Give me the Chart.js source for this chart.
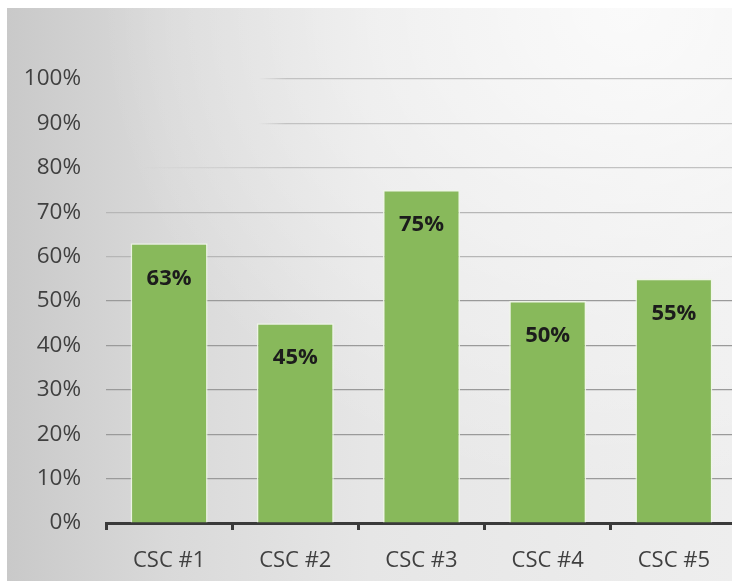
<!DOCTYPE html>
<html>
<head>
<meta charset="utf-8">
<script src="https://cdn.jsdelivr.net/npm/chart.js@4.4.1/dist/chart.umd.min.js"></script>
<style>
  html, body { margin: 0; padding: 0; overflow: hidden; background: #fff; width: 732px; height: 581px; }
  #bg {
    position: absolute; left: 7px; top: 8px; width: 725px; height: 573px;
    background:
      radial-gradient(ellipse at 85% 0%, rgba(255,255,255,0.75), rgba(255,255,255,0) 60%),
      linear-gradient(to right, #c9c9c9 0%, #d9d9d9 22%, #e6e6e6 50%, #eeeeee 100%);
  }
  #wrap { position: absolute; left: 0; top: 0; width: 745px; height: 581px; }
</style>
</head>
<body>
<div id="bg"></div>
<div id="wrap"><canvas id="csc-chart"></canvas></div>
<script>
const categories = ['CSC #1', 'CSC #2', 'CSC #3', 'CSC #4', 'CSC #5'];
const values = [63, 45, 75, 50, 55];
const yTicks = [0, 10, 20, 30, 40, 50, 60, 70, 80, 90, 100];

const ctx = document.getElementById('csc-chart').getContext('2d');
const FONT = "'Open Sans', 'Noto Sans', sans-serif";

// labels inside the bars, a little below the top
const barLabels = {
	id: 'barLabels',
	afterDatasetsDraw(chart) {
		const c = chart.ctx;
		const meta = chart.getDatasetMeta(0);
		c.save();
		c.font = 'bold 22px ' + FONT;
		c.fillStyle = '#1c1c1c';
		c.textAlign = 'center';
		c.textBaseline = 'middle';
		meta.data.forEach((bar, i) => {
			c.fillText(values[i] + '%', bar.x, bar.y + 35);
		});
		c.restore();
	}
};

function gridColor(context) {
	const v = context.tick ? context.tick.value : 0;
	const area = context.chart.chartArea;
	if (v <= 50) return '#9a9a9a';
	if (!area || v < 80) return '#b6b6b6';
	// the upper lines fade out towards the left like in the photo
	const g = context.chart.ctx.createLinearGradient(area.left, 0, area.left + 180, 0);
	g.addColorStop(0, 'rgba(194,194,194,0)');
	g.addColorStop(v >= 90 ? 0.85 : 0.2, 'rgba(194,194,194,0)');
	g.addColorStop(1, 'rgba(194,194,194,1)');
	return g;
}

new Chart(ctx, {
	type: 'bar',
	data: {
		labels: categories,
		datasets: [{
			data: values,
			backgroundColor: '#88b95b',
			borderColor: 'rgba(238,246,230,0.9)',
			borderWidth: 1.5,
			categoryPercentage: 1,
			barPercentage: 0.61,
		}],
	},
	options: {
		responsive: true,
		maintainAspectRatio: false,
		animation: false,
		layout: { padding: { top: 79, right: 8, left: 0, bottom: 0 } },
		plugins: {
			legend: { display: false },
			tooltip: { enabled: false },
		},
		scales: {
			x: {
				grid: {
					display: true,
					drawOnChartArea: false,
					drawTicks: true,
					tickLength: 7,
					color: '#3a3a3a',
					lineWidth: 3,
				},
				border: { display: true, color: '#3a3a3a', width: 3 },
				ticks: {
					color: '#404040',
					font: { family: FONT, size: 22 },
					padding: 18,
				},
				afterFit(scale) { scale.height = 58; },
			},
			y: {
				min: 0,
				max: 100,
				afterBuildTicks(scale) { scale.ticks = yTicks.map(v => ({ value: v })); },
				grid: {
					drawTicks: false,
					color: gridColor,
					lineWidth: 1.2,
				},
				border: { display: false },
				ticks: {
					color: '#404040',
					font: { family: FONT, size: 22.5 },
					padding: 25,
					callback: v => v + '%',
				},
				afterFit(scale) { scale.width = 106; },
			},
		},
	},
	plugins: [barLabels],
});
</script>
</body>
</html>
